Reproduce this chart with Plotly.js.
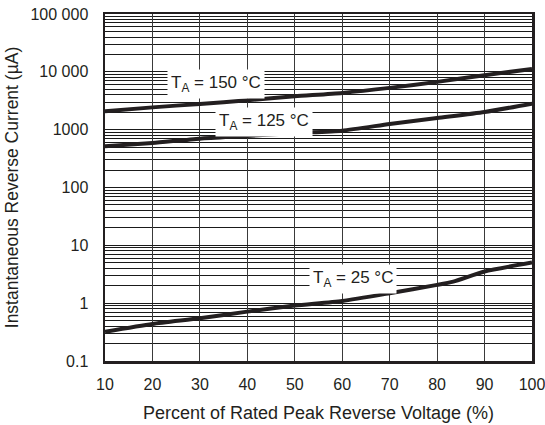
<!DOCTYPE html>
<html>
<head>
<meta charset="utf-8">
<script src="https://cdn.plot.ly/plotly-3.0.1.min.js"></script>
<style>html,body{margin:0;padding:0;background:#fff}#chart{width:545px;height:425px}</style>
</head>
<body>
<div id="chart"></div>
<script>
// Data
const voltagePct = [10, 20, 30, 40, 50, 60, 70, 80, 90, 100];
const current150 = [2075, 2430, 2790, 3215, 3770, 4325, 5280, 6700, 8720, 11240];
const current125 = [514, 589, 699, 778, 877, 961, 1256, 1596, 2025, 2820];
const voltage25 = [10, 20, 30, 40, 50, 60, 70, 80, 83.4, 90, 100];
const current25 = [0.321, 0.437, 0.548, 0.714, 0.908, 1.094, 1.487, 2.07, 2.36, 3.52, 5.03];

const xTicks = [10, 20, 30, 40, 50, 60, 70, 80, 90, 100];
const yDecades = [0.1, 1, 10, 100, 1000, 10000, 100000];
const yDecadeLabels = ['0.1', '1', '10', '100', '1000', '10 000', '100 000'];

const curveLabels = [
  {text: 'T<sub>A</sub> = 150 °C', x: 33.4, y: 6270},
  {text: 'T<sub>A</sub> = 125 °C', x: 43.6, y: 1377},
  {text: 'T<sub>A</sub> = 25 °C', x: 62.3, y: 2.63}
];

// minor gridline positions (2..9 within each decade)
const yMinorVals = [];
for (let d = 0; d < yDecades.length - 1; d++) {
  for (let m = 2; m <= 9; m++) yMinorVals.push(yDecades[d] * m);
}

const ink = '#231f20';
const lineStyle = {color: ink, width: 4, shape: 'spline', smoothing: 0.6};
const traces = [
  {x: voltagePct, y: current150, mode: 'lines', line: lineStyle, hoverinfo: 'skip'},
  {x: voltagePct, y: current125, mode: 'lines', line: lineStyle, hoverinfo: 'skip'},
  {x: voltage25, y: current25, mode: 'lines', line: lineStyle, hoverinfo: 'skip'}
];

const layout = {
  width: 545, height: 425,
  margin: {l: 105, r: 13, t: 14, b: 64},
  paper_bgcolor: '#fff', plot_bgcolor: '#fff',
  showlegend: false,
  font: {family: 'Liberation Sans, Arial, sans-serif', color: ink, size: 16},
  xaxis: {
    range: [10, 100], tickmode: 'array', tickvals: xTicks, ticktext: xTicks.map(String),
    showgrid: true, gridcolor: '#3a3a3a', gridwidth: 1,
    showline: true, mirror: true, linecolor: ink, linewidth: 2.5,
    ticks: '', ticklabelstandoff: 7, zeroline: false,
    ticklabeloverflow: 'allow',
    tickfont: {size: 16, color: ink},
    title: {text: 'Percent of Rated Peak Reverse Voltage (%)', font: {size: 18, color: ink}, standoff: 15}
  },
  yaxis: {
    type: 'log', range: [-1, 5], tickmode: 'array', tickvals: yDecades, ticktext: yDecadeLabels,
    showgrid: true, gridcolor: '#1a1a1a', gridwidth: 1,
    minor: {tickmode: 'array', tickvals: yMinorVals, showgrid: true, gridcolor: '#1a1a1a', gridwidth: 1, ticks: ''},
    showline: true, mirror: true, linecolor: ink, linewidth: 2.5,
    ticks: '', ticklabelstandoff: 11, zeroline: false,
    tickfont: {size: 16, color: ink},
    title: {text: 'Instantaneous Reverse Current (µA)', font: {size: 17.5, color: ink}, standoff: 8}
  },
  annotations: curveLabels.map(c => ({
    text: c.text, x: c.x, y: Math.log10(c.y), xref: 'x', yref: 'y',
    showarrow: false, bgcolor: '#fff', borderpad: 3,
    font: {size: 17, color: ink}
  }))
};

Plotly.newPlot('chart', traces, layout, {staticPlot: true, displayModeBar: false});
</script>
</body>
</html>
